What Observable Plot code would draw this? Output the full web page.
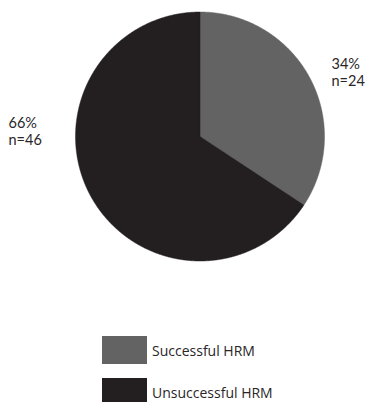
<!DOCTYPE html>
<html>
<head>
<meta charset="utf-8">
<script src="https://cdn.jsdelivr.net/npm/d3@7"></script>
<script src="https://cdn.jsdelivr.net/npm/@observablehq/plot@0.6"></script>
<style>
  html, body { margin: 0; padding: 0; background: #fff; width: 385px; height: 402px; overflow: hidden; }
  body { font-family: "Open Sans", sans-serif; }
  #legend { margin-top: 16px; }
  .row { display: flex; align-items: center; height: 28px; margin-bottom: 14px; }
  .sw { width: 45px; height: 28px; margin-left: 102px; }
  .lb { margin-left: 5px; font-size: 14px; color: #2a2627; }
</style>
</head>
<body>
<div id="chart"></div>
<div id="legend"></div>
<script>
const categories = ["Successful HRM", "Unsuccessful HRM"];
const counts = [24, 46];
const percents = ["34%", "66%"];
const colors = ["#636363", "#231f20"];

const arcs = d3.pie().sort(null)(counts);
const slices = arcs.map((a, i) => {
  const pts = [{x: 0, y: 0}];
  const n = Math.max(2, Math.ceil((a.endAngle - a.startAngle) / 0.005));
  for (let k = 0; k <= n; k++) {
    const t = a.startAngle + (a.endAngle - a.startAngle) * k / n;
    pts.push({x: Math.sin(t), y: Math.cos(t)});
  }
  pts.push({x: 0, y: 0});
  return {key: categories[i], color: colors[i], pts};
});

// label anchor (left edge, first line bottom) for each slice's label block
const labelPos = [[331, 68], [8, 127]];
const labelMarks = [];
categories.forEach((c, i) => {
  const lines = [percents[i], `n=${counts[i]}`];
  lines.forEach((t, j) => {
    labelMarks.push(Plot.text([t], {
      text: d => d, frameAnchor: "top-left", textAnchor: "start", lineAnchor: "bottom",
      dx: labelPos[i][0], dy: labelPos[i][1] + j * 17, fontSize: 14.5, fill: "#2a2627",
      fontFamily: "Lato, sans-serif"
    }));
  });
});

const plot = Plot.plot({
  width: 385,
  height: 320,
  margin: 0,
  x: {domain: [-1, 1], range: [75, 324], axis: null},
  y: {domain: [-1, 1], range: [260.5, 11.5], axis: null},
  style: {fontFamily: "Lato, sans-serif", background: "#fff"},
  marks: [
    ...slices.map(s => Plot.line(s.pts, {x: "x", y: "y", fill: s.color, stroke: s.color, strokeWidth: 0.5, curve: "linear"})),
    ...labelMarks
  ]
});
document.getElementById("chart").appendChild(plot);

const legend = document.getElementById("legend");
categories.forEach((c, i) => {
  const row = document.createElement("div");
  row.className = "row";
  const sw = document.createElement("div");
  sw.className = "sw";
  sw.style.background = colors[i];
  const lb = document.createElement("span");
  lb.className = "lb";
  lb.textContent = c;
  row.appendChild(sw);
  row.appendChild(lb);
  legend.appendChild(row);
});
</script>
</body>
</html>
